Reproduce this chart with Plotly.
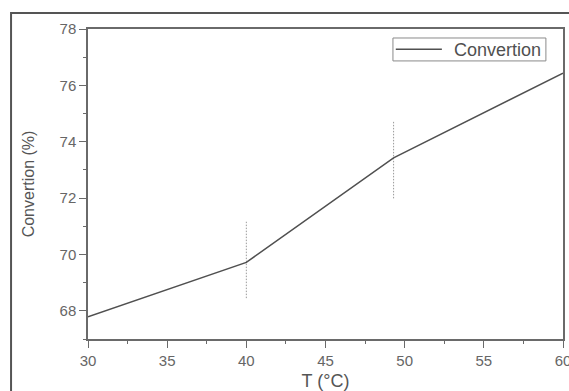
import plotly.graph_objects as go

# Data
temperature = [30, 40, 49.3, 60]
conversion = [67.79, 69.72, 73.43, 76.43]
series_name = "Convertion"

# vertical dotted markers (x, low, high)
marker_x = [40, 49.3]
marker_low = [68.45, 71.99]
marker_high = [71.16, 74.72]

x_ticks = [30, 35, 40, 45, 50, 55, 60]
y_ticks = [68, 70, 72, 74, 76, 78]

FONT = "Liberation Sans, Arial"
LINE_COLOR = "#505050"

fig = go.Figure()

for mx, lo, hi in zip(marker_x, marker_low, marker_high):
    fig.add_trace(go.Scatter(x=[mx, mx], y=[lo, hi], mode="lines",
                             line=dict(color="#9a9a9a", width=1, dash="1.5px,1.5px"),
                             showlegend=False, hoverinfo="skip"))

fig.add_trace(go.Scatter(x=temperature, y=conversion, mode="lines",
                         name=series_name, showlegend=False,
                         line=dict(color=LINE_COLOR, width=1.5)))

axis_common = dict(showline=True, linecolor="#6a6a6a", linewidth=1.5, mirror=True,
                   showgrid=False, zeroline=False, ticks="outside", ticklen=7,
                   tickcolor="#6a6a6a", tickwidth=1, automargin=False,
                   ticklabeloverflow="allow",
                   tickfont=dict(family=FONT, size=15, color="#666666"),
                   minor=dict(ticks="outside", ticklen=3, tickcolor="#6a6a6a", tickwidth=1))

fig.update_xaxes(range=[30, 60], tickvals=x_ticks, minor_dtick=2.5,
                 title=dict(text="T (°C)", font=dict(family=FONT, size=18, color="#555555"),
                            standoff=12),
                 **axis_common)
fig.update_yaxes(range=[67, 78], tickvals=y_ticks, minor_dtick=1,
                 title=dict(text="Convertion (%)", font=dict(family=FONT, size=16, color="#555555"),
                            standoff=21),
                 **axis_common)

# outer frame
fig.add_shape(type="rect", xref="paper", yref="paper",
              x0=-0.162, x1=1.2, y0=-0.4, y1=1.0516,
              line=dict(color="#555555", width=2), layer="below")

# legend box (drawn manually)
fig.add_shape(type="rect", xref="paper", yref="paper",
              x0=0.642, x1=0.964, y0=0.897, y1=0.971,
              line=dict(color="#8a8a8a", width=1), fillcolor="white")
fig.add_shape(type="line", xref="paper", yref="paper",
              x0=0.648, x1=0.745, y0=0.935, y1=0.935,
              line=dict(color=LINE_COLOR, width=1.5))
fig.add_annotation(xref="paper", yref="paper", x=0.957, y=0.933,
                   xanchor="right", yanchor="middle", showarrow=False,
                   text=series_name,
                   font=dict(family=FONT, size=18, color="#505050"))

fig.update_layout(
    width=569, height=391,
    margin=dict(l=88, r=6, t=29, b=52),
    paper_bgcolor="white", plot_bgcolor="white",
    showlegend=False,
)

fig.write_html("out.html")
